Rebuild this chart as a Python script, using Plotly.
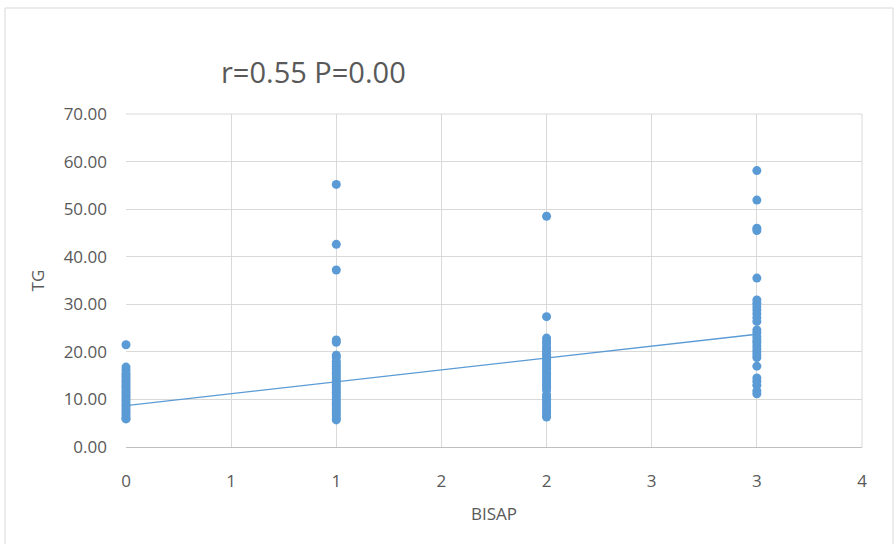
import plotly.graph_objects as go

# Data
bisap0 = [21.5, 16.8, 16.2, 15.5, 15.0, 14.5, 14.0, 13.5, 13.0, 12.5, 12.0, 11.5, 11.0, 10.5,
          10.0, 9.5, 9.0, 8.5, 8.0, 7.5, 7.0, 6.5, 6.0, 5.9]
bisap1 = [55.2, 42.6, 37.2, 22.5, 22.0, 19.3, 18.8, 18.0, 17.5, 17.0, 16.5, 16.0, 15.5, 15.0,
          14.5, 14.0, 13.5, 13.0, 12.5, 12.0, 11.5, 11.0, 10.5, 10.0, 9.5, 9.0, 8.5, 8.0,
          7.5, 7.0, 6.5, 6.0, 5.7]
bisap2 = [48.5, 27.4, 22.9, 22.3, 21.7, 21.0, 20.5, 20.0, 19.5, 19.0, 18.5, 18.0, 17.5, 17.0,
          16.5, 16.0, 15.5, 15.0, 14.5, 14.0, 13.5, 13.0, 12.5, 12.0, 11.0, 10.5, 10.0, 9.5,
          9.0, 8.5, 8.0, 7.5, 7.0, 6.5, 6.3]
bisap3 = [58.1, 51.9, 46.0, 45.5, 35.5, 30.9, 30.2, 29.5, 28.8, 28.0, 27.2, 26.4, 24.6, 24.0,
          23.2, 22.5, 22.0, 21.3, 20.6, 20.0, 19.4, 18.8, 17.0, 14.5, 13.8, 13.0, 11.8, 11.2]

trend_intercept = 8.7
trend_slope = 5.0
trend_x = [0, 3]

x_tickvals = [0, 0.5, 1, 1.5, 2, 2.5, 3, 3.5]
x_ticktext = ["0", "1", "1", "2", "2", "3", "3", "4"]
y_tickvals = [0, 10, 20, 30, 40, 50, 60, 70]

xs, ys = [], []
for lvl, vals in enumerate([bisap0, bisap1, bisap2, bisap3]):
    xs += [lvl] * len(vals)
    ys += vals

blue = "#5B9BD5"
gray_text = "#595959"
font_family = "'Open Sans', Lato, sans-serif"

fig = go.Figure()
fig.add_trace(go.Scatter(x=xs, y=ys, mode="markers", cliponaxis=False,
                         marker=dict(color=blue, size=9, line=dict(width=0)),
                         showlegend=False, hoverinfo="skip"))
fig.add_trace(go.Scatter(x=trend_x, y=[trend_intercept + trend_slope * v for v in trend_x],
                         mode="lines", line=dict(color=blue, width=1.3), cliponaxis=False,
                         showlegend=False, hoverinfo="skip"))

fig.update_layout(
    width=896, height=544,
    margin=dict(l=126, r=34, t=114, b=97),
    paper_bgcolor="white", plot_bgcolor="white",
    font=dict(family=font_family, color=gray_text, size=17),
    xaxis=dict(range=[0, 3.5], tickvals=x_tickvals, ticktext=x_ticktext,
               showgrid=True, gridcolor="#D9D9D9", gridwidth=1,
               showline=True, linecolor="#BFBFBF", linewidth=1, mirror=False,
               zeroline=False, ticks="", ticklen=0, ticklabelstandoff=19,
               tickfont=dict(size=17, color=gray_text),
               title=dict(text="BISAP", font=dict(size=17, color=gray_text), standoff=16)),
    yaxis=dict(range=[0, 70], tickvals=y_tickvals, tickformat=".2f",
               showgrid=True, gridcolor="#D9D9D9", gridwidth=1,
               showline=False, zeroline=False, ticks="", ticklen=0, ticklabelstandoff=18,
               tickfont=dict(size=17, color=gray_text),
               title=dict(text="TG", font=dict(size=17, color=gray_text), standoff=14)),
    annotations=[dict(text="r=0.55 P=0.00", xref="paper", yref="paper",
                      x=(313 - 126) / 736, y=(447 - 72) / 333, xanchor="center", yanchor="middle",
                      showarrow=False, font=dict(size=29, color=gray_text, family=font_family))],
    shapes=[
        dict(type="line", xref="paper", yref="paper", x0=1, x1=1, y0=0, y1=1,
             line=dict(color="#D9D9D9", width=1)),
        dict(type="line", xref="paper", yref="paper", x0=0, x1=1, y0=1, y1=1,
             line=dict(color="#D9D9D9", width=1)),
        dict(type="rect", xref="paper", yref="paper",
             x0=(5 - 126) / 736, x1=(893 - 126) / 736, y0=(447 - 560) / 333, y1=(447 - 8) / 333,
             line=dict(color="#D9D9D9", width=1), layer="below"),
    ],
)

fig.write_html("out.html")
